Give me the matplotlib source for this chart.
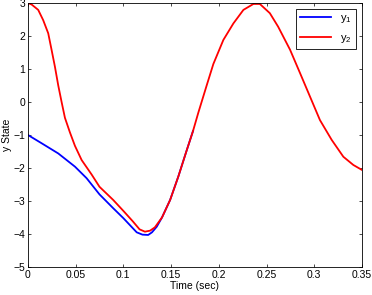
import matplotlib
matplotlib.use('Agg')
import matplotlib.pyplot as plt

plt.rcParams['font.family'] = ['Liberation Sans', 'DejaVu Sans']
plt.rcParams['mathtext.fontset'] = 'custom'
plt.rcParams['mathtext.rm'] = 'Liberation Sans'
plt.rcParams['mathtext.default'] = 'regular'

# 数据
t_red = [0, 0.004, 0.0108, 0.016, 0.0213, 0.0248, 0.0283, 0.0318, 0.0353, 0.0388,
         0.044, 0.0493, 0.0563, 0.0668, 0.075, 0.0894, 0.1, 0.11, 0.117, 0.1226,
         0.128, 0.133, 0.1405, 0.149, 0.1576, 0.166, 0.173, 0.1786, 0.1873, 0.1943,
         0.2048, 0.2153, 0.2258, 0.2363, 0.243, 0.2535, 0.2622, 0.2747, 0.2852, 0.2956,
         0.306, 0.3183, 0.3305, 0.341, 0.35]
y2 = [3.0, 2.95, 2.79, 2.48, 2.08, 1.58, 1.07, 0.5, 0.0, -0.48,
      -0.92, -1.33, -1.76, -2.2, -2.57, -2.97, -3.3, -3.62, -3.86, -3.93,
      -3.9, -3.8, -3.5, -2.97, -2.26, -1.5, -0.88, -0.32, 0.5, 1.15,
      1.88, 2.38, 2.79, 2.97, 2.97, 2.69, 2.28, 1.58, 0.87, 0.16,
      -0.55, -1.15, -1.66, -1.91, -2.06]

t_blue = [0, 0.0143, 0.0318, 0.0493, 0.0615, 0.075, 0.0894, 0.1, 0.114, 0.12,
          0.126, 0.13, 0.135, 0.1405, 0.149, 0.1576, 0.166, 0.173]
y1 = [-1.0, -1.25, -1.56, -1.96, -2.31, -2.8, -3.22, -3.52, -3.95, -4.02,
      -4.03, -3.95, -3.78, -3.5, -2.97, -2.26, -1.5, -0.88]

xticks = [0, 0.05, 0.1, 0.15, 0.2, 0.25, 0.3, 0.35]
xticklabels = ['0', '0.05', '0.1', '0.15', '0.2', '0.25', '0.3', '0.35']
yticks = [-5, -4, -3, -2, -1, 0, 1, 2, 3]

fig = plt.figure(figsize=(3.72, 2.95), dpi=100)
ax = fig.add_axes([0.075, 0.095, 0.898, 0.895])

ax.plot(t_blue, y1, color='#0000ff', linewidth=1.3, label='y$_1$')
ax.plot(t_red, y2, color='#ff0000', linewidth=1.3, label='y$_2$')

ax.set_xlim(0, 0.35)
ax.set_ylim(-5, 3)
ax.set_xticks(xticks)
ax.set_xticklabels(xticklabels)
ax.set_yticks(yticks)
ax.tick_params(direction='in', length=2.5, width=0.5, labelsize=7.5,
               top=True, right=True, pad=2)
for s in ax.spines.values():
    s.set_linewidth(0.6)

ax.set_xlabel('Time (sec)', fontsize=7.5, labelpad=1)
ax.set_ylabel('y State', fontsize=7.5, labelpad=1)

leg = ax.legend(loc='upper right', fontsize=8, fancybox=False, framealpha=1,
                edgecolor='black', handlelength=2.8, borderpad=0.4,
                labelspacing=0.7, borderaxespad=0.5)
leg.get_frame().set_linewidth(0.6)

fig.savefig('out.png', dpi=100)
